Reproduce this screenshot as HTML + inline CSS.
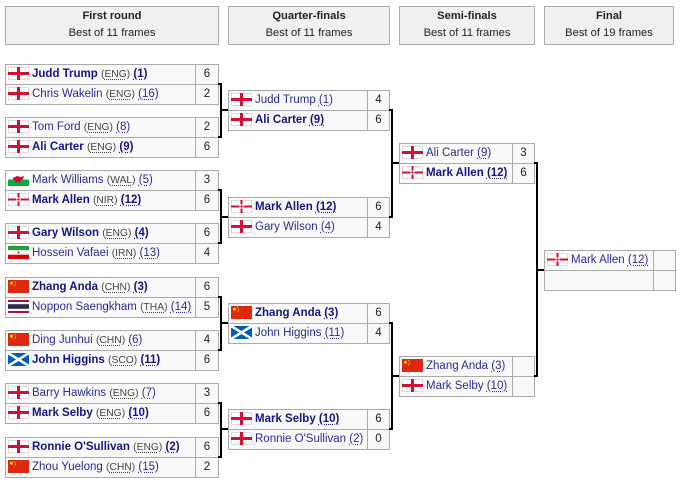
<!DOCTYPE html>
<html><head><meta charset="utf-8">
<style>
html,body{margin:0;padding:0;background:#fff;}
body{width:680px;height:485px;position:relative;overflow:hidden;font-family:"Liberation Sans",Arial,sans-serif;font-size:11.2px;color:#202122;}
.h{position:absolute;top:6px;height:39px;box-sizing:border-box;border:1px solid #aaa;background:#f0f0f0;text-align:center;line-height:17px;padding-top:1px;}
.h b{display:block;}
.c{position:absolute;box-sizing:border-box;border:1px solid #aaa;background:#f9f9f9;height:21px;line-height:19px;white-space:nowrap;overflow:hidden;font-size:11.5px;}
.n{padding-left:26px;color:#2b2b9b;}
.n.w{font-weight:bold;color:#14148a;}
.s{text-align:center;color:#202122;}
.c svg{position:absolute;left:2px;top:2px;}
.k{font-size:10.3px;color:#444;font-weight:normal;}
.k u,.sd{text-decoration:underline dotted;text-underline-offset:2px;}
.k u{color:#444;}
.l{position:absolute;background:#000;}
</style></head><body>

<div class="h" style="left:5px;width:214px;"><b>First round</b>Best of 11 frames</div>
<div class="h" style="left:228px;width:162px;"><b>Quarter-finals</b>Best of 11 frames</div>
<div class="h" style="left:399px;width:136px;"><b>Semi-finals</b>Best of 11 frames</div>
<div class="h" style="left:544px;width:130px;"><b>Final</b>Best of 19 frames</div>

<svg width="0" height="0" style="position:absolute">
<defs>
<symbol id="eng" viewBox="0 0 21 13"><rect x=".5" y=".5" width="20" height="12" fill="#fff" stroke="#ddd"/><rect x="9" y="0" width="3" height="13" fill="#d21034"/><rect x="0" y="5" width="21" height="3" fill="#d21034"/></symbol>
<symbol id="nir" viewBox="0 0 21 13"><rect x=".5" y=".5" width="20" height="12" fill="#fff" stroke="#ddd"/><rect x="9.5" y="0" width="2" height="13" fill="#d21034"/><rect x="0" y="5.5" width="21" height="2" fill="#d21034"/><rect x="8.5" y="4.5" width="4" height="4" fill="#fff"/><circle cx="10.5" cy="6.5" r="1.2" fill="#d21034"/></symbol>
<symbol id="wal" viewBox="0 0 21 13"><rect width="21" height="6.5" fill="#fff"/><rect y="6.5" width="21" height="6.5" fill="#00b140"/><path d="M5 5 L9 3 L13 4 L16 3 L15 6 L12 8 L13 10 L10 9 L7 10 L8 8 L5 7Z" fill="#d30731"/></symbol>
<symbol id="irn" viewBox="0 0 21 13"><rect width="21" height="4.3" fill="#239f40"/><rect y="4.3" width="21" height="4.4" fill="#fff"/><rect y="8.7" width="21" height="4.3" fill="#da0000"/><circle cx="10.5" cy="6.5" r="1" fill="#da0000"/></symbol>
<symbol id="chn" viewBox="0 0 21 13"><rect width="21" height="13" fill="#de2910"/><circle cx="3.5" cy="3.2" r="1.5" fill="#ffde00"/><circle cx="6.5" cy="1.5" r=".5" fill="#ffde00"/><circle cx="7.5" cy="3" r=".5" fill="#ffde00"/><circle cx="7.5" cy="4.8" r=".5" fill="#ffde00"/><circle cx="6.5" cy="6" r=".5" fill="#ffde00"/></symbol>
<symbol id="tha" viewBox="0 0 21 13"><rect width="21" height="13" fill="#a51931"/><rect y="2" width="21" height="9" fill="#f4f5f8"/><rect y="4.2" width="21" height="4.6" fill="#2d2a4a"/></symbol>
<symbol id="sco" viewBox="0 0 21 13"><rect width="21" height="13" fill="#005eb8"/><path d="M0 0L21 13M21 0L0 13" stroke="#fff" stroke-width="2.6"/></symbol>
</defs></svg>

<!-- First round -->
<div class="c n w" style="left:5px;top:64px;width:191px;"><svg width="21" height="13"><use href="#eng"/></svg>Judd Trump <span class="k">(<u>ENG</u>)</span> <span class="sd">(1)</span></div>
<div class="c s" style="left:195px;top:64px;width:24px;">6</div>
<div class="c n" style="left:5px;top:84px;width:191px;"><svg width="21" height="13"><use href="#eng"/></svg>Chris Wakelin <span class="k">(<u>ENG</u>)</span> <span class="sd">(16)</span></div>
<div class="c s" style="left:195px;top:84px;width:24px;">2</div>

<div class="c n" style="left:5px;top:117px;width:191px;"><svg width="21" height="13"><use href="#eng"/></svg>Tom Ford <span class="k">(<u>ENG</u>)</span> <span class="sd">(8)</span></div>
<div class="c s" style="left:195px;top:117px;width:24px;">2</div>
<div class="c n w" style="left:5px;top:137px;width:191px;"><svg width="21" height="13"><use href="#eng"/></svg>Ali Carter <span class="k">(<u>ENG</u>)</span> <span class="sd">(9)</span></div>
<div class="c s" style="left:195px;top:137px;width:24px;">6</div>

<div class="c n" style="left:5px;top:170px;width:191px;"><svg width="21" height="13"><use href="#wal"/></svg>Mark Williams <span class="k">(<u>WAL</u>)</span> <span class="sd">(5)</span></div>
<div class="c s" style="left:195px;top:170px;width:24px;">3</div>
<div class="c n w" style="left:5px;top:190px;width:191px;"><svg width="21" height="13"><use href="#nir"/></svg>Mark Allen <span class="k">(<u>NIR</u>)</span> <span class="sd">(12)</span></div>
<div class="c s" style="left:195px;top:190px;width:24px;">6</div>

<div class="c n w" style="left:5px;top:223px;width:191px;"><svg width="21" height="13"><use href="#eng"/></svg>Gary Wilson <span class="k">(<u>ENG</u>)</span> <span class="sd">(4)</span></div>
<div class="c s" style="left:195px;top:223px;width:24px;">6</div>
<div class="c n" style="left:5px;top:243px;width:191px;"><svg width="21" height="13"><use href="#irn"/></svg>Hossein Vafaei <span class="k">(<u>IRN</u>)</span> <span class="sd">(13)</span></div>
<div class="c s" style="left:195px;top:243px;width:24px;">4</div>

<div class="c n w" style="left:5px;top:277px;width:191px;"><svg width="21" height="13"><use href="#chn"/></svg>Zhang Anda <span class="k">(<u>CHN</u>)</span> <span class="sd">(3)</span></div>
<div class="c s" style="left:195px;top:277px;width:24px;">6</div>
<div class="c n" style="left:5px;top:297px;width:191px;"><svg width="21" height="13"><use href="#tha"/></svg>Noppon Saengkham <span class="k">(<u>THA</u>)</span> <span class="sd">(14)</span></div>
<div class="c s" style="left:195px;top:297px;width:24px;">5</div>

<div class="c n" style="left:5px;top:330px;width:191px;"><svg width="21" height="13"><use href="#chn"/></svg>Ding Junhui <span class="k">(<u>CHN</u>)</span> <span class="sd">(6)</span></div>
<div class="c s" style="left:195px;top:330px;width:24px;">4</div>
<div class="c n w" style="left:5px;top:350px;width:191px;"><svg width="21" height="13"><use href="#sco"/></svg>John Higgins <span class="k">(<u>SCO</u>)</span> <span class="sd">(11)</span></div>
<div class="c s" style="left:195px;top:350px;width:24px;">6</div>

<div class="c n" style="left:5px;top:383px;width:191px;"><svg width="21" height="13"><use href="#eng"/></svg>Barry Hawkins <span class="k">(<u>ENG</u>)</span> <span class="sd">(7)</span></div>
<div class="c s" style="left:195px;top:383px;width:24px;">3</div>
<div class="c n w" style="left:5px;top:403px;width:191px;"><svg width="21" height="13"><use href="#eng"/></svg>Mark Selby <span class="k">(<u>ENG</u>)</span> <span class="sd">(10)</span></div>
<div class="c s" style="left:195px;top:403px;width:24px;">6</div>

<div class="c n w" style="left:5px;top:437px;width:191px;"><svg width="21" height="13"><use href="#eng"/></svg>Ronnie O'Sullivan <span class="k">(<u>ENG</u>)</span> <span class="sd">(2)</span></div>
<div class="c s" style="left:195px;top:437px;width:24px;">6</div>
<div class="c n" style="left:5px;top:457px;width:191px;"><svg width="21" height="13"><use href="#chn"/></svg>Zhou Yuelong <span class="k">(<u>CHN</u>)</span> <span class="sd">(15)</span></div>
<div class="c s" style="left:195px;top:457px;width:24px;">2</div>

<!-- Quarter-finals -->
<div class="c n" style="left:228px;top:90px;width:140px;"><svg width="21" height="13"><use href="#eng"/></svg>Judd Trump <span class="sd">(1)</span></div>
<div class="c s" style="left:367px;top:90px;width:23px;">4</div>
<div class="c n w" style="left:228px;top:110px;width:140px;"><svg width="21" height="13"><use href="#eng"/></svg>Ali Carter <span class="sd">(9)</span></div>
<div class="c s" style="left:367px;top:110px;width:23px;">6</div>

<div class="c n w" style="left:228px;top:197px;width:140px;"><svg width="21" height="13"><use href="#nir"/></svg>Mark Allen <span class="sd">(12)</span></div>
<div class="c s" style="left:367px;top:197px;width:23px;">6</div>
<div class="c n" style="left:228px;top:217px;width:140px;"><svg width="21" height="13"><use href="#eng"/></svg>Gary Wilson <span class="sd">(4)</span></div>
<div class="c s" style="left:367px;top:217px;width:23px;">4</div>

<div class="c n w" style="left:228px;top:303px;width:140px;"><svg width="21" height="13"><use href="#chn"/></svg>Zhang Anda <span class="sd">(3)</span></div>
<div class="c s" style="left:367px;top:303px;width:23px;">6</div>
<div class="c n" style="left:228px;top:323px;width:140px;"><svg width="21" height="13"><use href="#sco"/></svg>John Higgins <span class="sd">(11)</span></div>
<div class="c s" style="left:367px;top:323px;width:23px;">4</div>

<div class="c n w" style="left:228px;top:409px;width:140px;"><svg width="21" height="13"><use href="#eng"/></svg>Mark Selby <span class="sd">(10)</span></div>
<div class="c s" style="left:367px;top:409px;width:23px;">6</div>
<div class="c n" style="left:228px;top:429px;width:140px;"><svg width="21" height="13"><use href="#eng"/></svg>Ronnie O'Sullivan <span class="sd">(2)</span></div>
<div class="c s" style="left:367px;top:429px;width:23px;">0</div>

<!-- Semi-finals -->
<div class="c n" style="left:399px;top:143px;width:114px;"><svg width="21" height="13"><use href="#eng"/></svg>Ali Carter <span class="sd">(9)</span></div>
<div class="c s" style="left:512px;top:143px;width:23px;">3</div>
<div class="c n w" style="left:399px;top:163px;width:114px;"><svg width="21" height="13"><use href="#nir"/></svg>Mark Allen <span class="sd">(12)</span></div>
<div class="c s" style="left:512px;top:163px;width:23px;">6</div>

<div class="c n" style="left:399px;top:356px;width:114px;"><svg width="21" height="13"><use href="#chn"/></svg>Zhang Anda <span class="sd">(3)</span></div>
<div class="c s" style="left:512px;top:356px;width:23px;"></div>
<div class="c n" style="left:399px;top:376px;width:114px;"><svg width="21" height="13"><use href="#eng"/></svg>Mark Selby <span class="sd">(10)</span></div>
<div class="c s" style="left:512px;top:376px;width:23px;"></div>

<!-- Final -->
<div class="c n" style="left:544px;top:250px;width:110px;"><svg width="21" height="13"><use href="#nir"/></svg>Mark Allen <span class="sd">(12)</span></div>
<div class="c s" style="left:653px;top:250px;width:23px;"></div>
<div class="c n" style="left:544px;top:270px;width:110px;"></div>
<div class="c s" style="left:653px;top:270px;width:23px;"></div>

<!-- Connectors R1 -> QF -->
<div class="l" style="left:218px;top:83px;width:4px;height:2px;"></div>
<div class="l" style="left:220px;top:83px;width:2px;height:55px;"></div>
<div class="l" style="left:218px;top:136px;width:4px;height:2px;"></div>
<div class="l" style="left:220px;top:109px;width:8px;height:2px;"></div>

<div class="l" style="left:218px;top:189px;width:4px;height:2px;"></div>
<div class="l" style="left:220px;top:189px;width:2px;height:55px;"></div>
<div class="l" style="left:218px;top:242px;width:4px;height:2px;"></div>
<div class="l" style="left:220px;top:216px;width:8px;height:2px;"></div>

<div class="l" style="left:218px;top:296px;width:4px;height:2px;"></div>
<div class="l" style="left:220px;top:296px;width:2px;height:55px;"></div>
<div class="l" style="left:218px;top:349px;width:4px;height:2px;"></div>
<div class="l" style="left:220px;top:322px;width:8px;height:2px;"></div>

<div class="l" style="left:218px;top:402px;width:4px;height:2px;"></div>
<div class="l" style="left:220px;top:402px;width:2px;height:56px;"></div>
<div class="l" style="left:218px;top:456px;width:4px;height:2px;"></div>
<div class="l" style="left:220px;top:428px;width:8px;height:2px;"></div>

<!-- QF -> SF -->
<div class="l" style="left:389px;top:109px;width:4px;height:2px;"></div>
<div class="l" style="left:391px;top:109px;width:2px;height:109px;"></div>
<div class="l" style="left:389px;top:216px;width:4px;height:2px;"></div>
<div class="l" style="left:391px;top:162px;width:8px;height:2px;"></div>

<div class="l" style="left:389px;top:322px;width:4px;height:2px;"></div>
<div class="l" style="left:391px;top:322px;width:2px;height:108px;"></div>
<div class="l" style="left:389px;top:428px;width:4px;height:2px;"></div>
<div class="l" style="left:391px;top:375px;width:8px;height:2px;"></div>

<!-- SF -> Final -->
<div class="l" style="left:534px;top:162px;width:4px;height:2px;"></div>
<div class="l" style="left:536px;top:162px;width:2px;height:215px;"></div>
<div class="l" style="left:534px;top:375px;width:4px;height:2px;"></div>
<div class="l" style="left:536px;top:269px;width:8px;height:2px;"></div>

</body></html>
